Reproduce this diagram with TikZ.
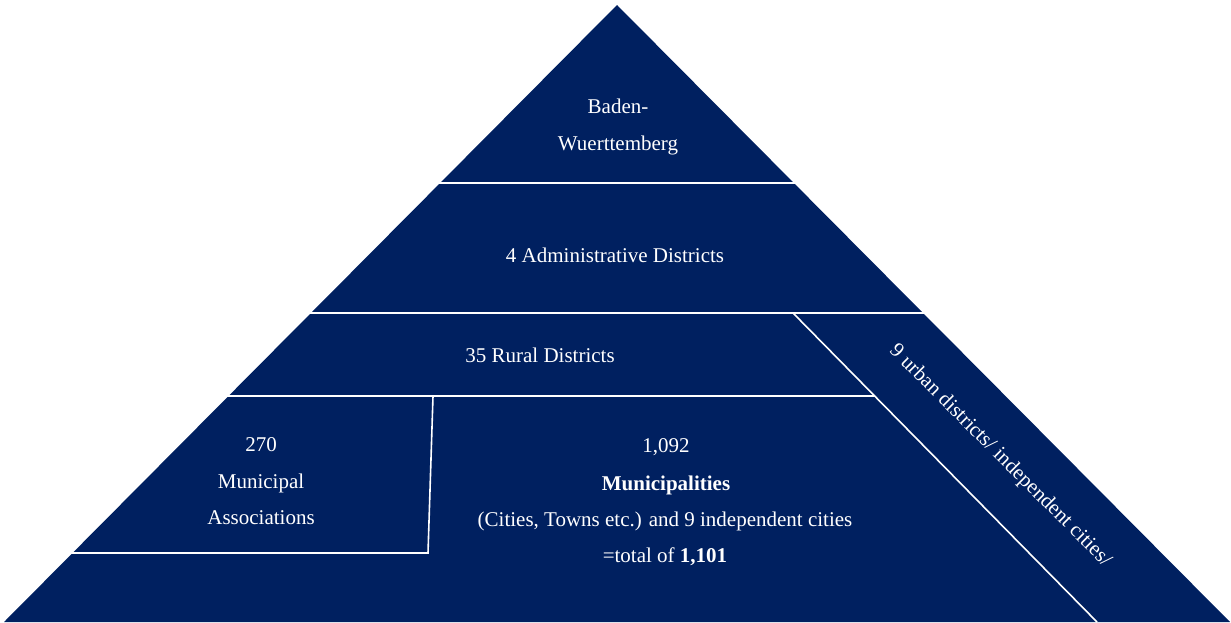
\documentclass[tikz,border=0pt]{standalone}
\usepackage{fontspec}
\setmainfont{Liberation Serif}
\usetikzlibrary{calc,intersections}
\definecolor{navy}{HTML}{002060}
\begin{document}
\begin{tikzpicture}[x=1pt,y=-1pt,
  sep/.style={draw=white,line width=1.6pt},
  lbl/.style={text=white,font=\fontsize{21}{25}\selectfont,inner sep=0pt,anchor=base}]
\useasboundingbox (0,0) rectangle (1231,622);
\coordinate (apex) at (617,5);
\coordinate (bl) at (4,622);
\coordinate (br) at (1230,622);
\fill[navy] (apex) -- (bl) -- (br) -- cycle;
% horizontal separators
\coordinate (l1a) at (439,183); \coordinate (l1b) at (795,183);
\coordinate (l2a) at (309,313); \coordinate (l2b) at (925,313);
\coordinate (l3a) at (226,396); \coordinate (l3b) at (875,396);
\coordinate (d1) at (793,313);  \coordinate (d2) at (1097,622);
\coordinate (b1) at (433,396);  \coordinate (b2) at (428,553);
\coordinate (b3) at (69,553);
\draw[sep] (l1a) -- (l1b);
\draw[sep] (l2a) -- (l2b);
\draw[sep] (l3a) -- (l3b);
\draw[sep] (d1) -- (d2);
\draw[sep] (b1) -- (b2) -- (b3);
% labels
\node[lbl] (t1) at (618,113) {Baden-};
\node[lbl] (t2) at (618,150) {Wuerttemberg};
\node[lbl] (t3) at (615,262) {4 Administrative Districts};
\node[lbl] (t4) at (540,362) {35 Rural Districts};
\node[lbl] (a1) at (261,451) {270};
\node[lbl] (a2) at (261,488) {Municipal};
\node[lbl] (a3) at (261,524) {Associations};
\node[lbl] (m1) at (666,452) {1,092};
\node[lbl] (m2) at (666,490) {\bfseries Municipalities};
\node[lbl] (m3) at (665,526) {(Cities, Towns etc.) and 9 independent cities};
\node[lbl] (m4) at (665,562) {=total of \textbf{1,101}};
\node[lbl,anchor=center,rotate=-45] (u1) at (1000,456) {9 urban districts/ independent cities/};
\end{tikzpicture}
\end{document}
